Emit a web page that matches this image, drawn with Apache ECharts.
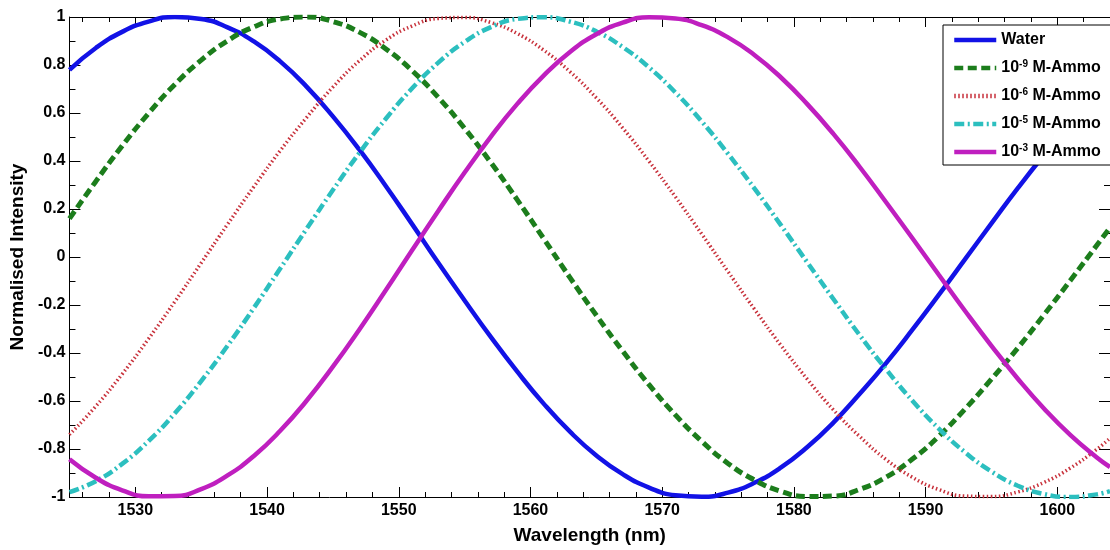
<!DOCTYPE html>
<html>
<head>
<meta charset="utf-8">
<script src="https://cdn.jsdelivr.net/npm/echarts@6/dist/echarts.min.js"></script>
<style>
  html, body { margin: 0; padding: 0; background: #fff; }
  #chart { width: 1110px; height: 550px; }
</style>
</head>
<body>
<div id="chart"></div>
<script>
// ---- data ----
const wavelengths = [1525, 1527, 1529, 1531, 1533, 1535, 1537, 1539, 1541, 1543,
  1545, 1547, 1549, 1551, 1553, 1555, 1557, 1559, 1561, 1563,
  1565, 1567, 1569, 1571, 1573, 1575, 1577, 1579, 1581, 1583,
  1585, 1587, 1589, 1591, 1593, 1595, 1597, 1599, 1601, 1603, 1604];

const water = [0.780, 0.871, 0.938, 0.981, 1.000, 0.992, 0.957, 0.898, 0.815, 0.710,
  0.586, 0.448, 0.297, 0.138, -0.024, -0.181, -0.334, -0.478, -0.611, -0.728,
  -0.827, -0.905, -0.961, -0.993, -0.999, -0.982, -0.941, -0.878, -0.793, -0.690,
  -0.570, -0.442, -0.303, -0.158, -0.009, 0.140, 0.287, 0.426, 0.557, 0.674, 0.728];

const ammo9 = [0.160, 0.315, 0.463, 0.598, 0.719, 0.820, 0.901, 0.959, 0.992, 1.000,
  0.981, 0.937, 0.868, 0.777, 0.665, 0.536, 0.393, 0.238, 0.077, -0.086,
  -0.243, -0.392, -0.532, -0.658, -0.768, -0.860, -0.929, -0.976, -0.998, -0.996,
  -0.968, -0.917, -0.842, -0.747, -0.633, -0.509, -0.379, -0.240, -0.097, 0.049, 0.122];

const ammo6 = [-0.740, -0.622, -0.488, -0.341, -0.186, -0.025, 0.136, 0.293, 0.443, 0.581,
  0.708, 0.817, 0.903, 0.962, 0.994, 0.998, 0.977, 0.931, 0.862, 0.772,
  0.663, 0.538, 0.399, 0.251, 0.096, -0.061, -0.217, -0.367, -0.508, -0.637,
  -0.748, -0.844, -0.918, -0.969, -0.996, -0.998, -0.979, -0.939, -0.879, -0.801, -0.755];

const ammo5 = [-0.980, -0.934, -0.862, -0.767, -0.651, -0.517, -0.370, -0.212, -0.048, 0.117,
  0.279, 0.433, 0.575, 0.702, 0.810, 0.896, 0.958, 0.992, 0.999, 0.981,
  0.940, 0.875, 0.790, 0.686, 0.565, 0.430, 0.286, 0.134, -0.021, -0.175,
  -0.326, -0.468, -0.599, -0.715, -0.814, -0.894, -0.953, -0.988, -1.000, -0.989, -0.976];

const ammo3 = [-0.843, -0.920, -0.972, -0.997, -0.996, -0.967, -0.910, -0.829, -0.724, -0.599,
  -0.457, -0.303, -0.140, 0.027, 0.192, 0.352, 0.502, 0.638, 0.756, 0.854,
  0.928, 0.977, 0.999, 0.994, 0.966, 0.915, 0.842, 0.749, 0.638, 0.513,
  0.375, 0.228, 0.078, -0.074, -0.225, -0.370, -0.507, -0.632, -0.742, -0.835, -0.875];

const seriesNames = ['Water', '10-9 M-Ammo', '10-6 M-Ammo', '10-5 M-Ammo', '10-3 M-Ammo'];
const xTickLabels = [1530, 1540, 1550, 1560, 1570, 1580, 1590, 1600];
const yTickLabels = [-1, -0.8, -0.6, -0.4, -0.2, 0, 0.2, 0.4, 0.6, 0.8, 1];

// ---- chart ----
const FONT = '"Liberation Sans", Arial, Helvetica, sans-serif';
const X_MIN = 1525, X_MAX = 1604;

const xMinorTicks = [];
for (let v = 1526; v < X_MAX; v += 2) {
  if (v % 10 !== 0) xMinorTicks.push(v);
}

function xAxisDef(position, minor) {
  const main = position === 'bottom' && !minor;
  return {
    type: 'value', position: position, min: X_MIN, max: X_MAX,
    axisLine: { show: !minor, onZero: false, lineStyle: { color: '#000', width: 1 } },
    axisTick: { show: true, inside: true, length: minor ? 5 : 10,
      customValues: minor ? xMinorTicks : xTickLabels,
      lineStyle: { color: '#000', width: 1 } },
    axisLabel: main ? {
      show: true, customValues: xTickLabels, margin: 6,
      formatter: function (v) { return String(v); },
      color: '#000', fontSize: 16, fontWeight: 'bold', fontFamily: FONT
    } : { show: false },
    splitLine: { show: false },
    name: main ? 'Wavelength (nm)' : '',
    nameLocation: 'middle', nameGap: 29,
    nameTextStyle: { color: '#000', fontSize: 19, fontWeight: 'bold', fontFamily: FONT }
  };
}

function yAxisDef(position) {
  const left = position === 'left';
  return {
    type: 'value', position: position, min: -1, max: 1, interval: 0.2,
    axisLine: { show: true, onZero: false, lineStyle: { color: '#000', width: 1 } },
    axisTick: { show: true, inside: true, length: 11, lineStyle: { color: '#000', width: 1 } },
    minorTick: { show: true, splitNumber: 2, length: 6, lineStyle: { color: '#000', width: 1 } },
    axisLabel: left ? { show: true, margin: 4, color: '#000', fontSize: 16, fontWeight: 'bold',
      fontFamily: FONT, customValues: yTickLabels } : { show: false },
    splitLine: { show: false },
    minorSplitLine: { show: false },
    name: left ? 'Normalised Intensity' : '',
    nameLocation: 'middle', nameGap: 36,
    nameTextStyle: { color: '#000', fontSize: 19, fontWeight: 'bold', fontFamily: FONT }
  };
}

function pairs(values) {
  return wavelengths.map((w, i) => [w, values[i]]);
}

const styles = [
  { color: '#1212e6', width: 4.5, type: 'solid' },
  { color: '#1c7d1c', width: 5, type: [9, 4.5] },
  { color: '#c8323c', width: 3.5, type: [1.5, 2.5] },
  { color: '#2cbfbf', width: 4.5, type: [10, 3.5, 2, 3.5] },
  { color: '#bf1fbf', width: 4.5, type: 'solid' }
];
const allValues = [water, ammo9, ammo6, ammo5, ammo3];

const chart = echarts.init(document.getElementById('chart'), null, { renderer: 'canvas' });
chart.setOption({
  animation: false,
  backgroundColor: '#ffffff',
  grid: { left: 68, right: -7, top: 17, bottom: 45, containLabel: false },
  xAxis: [xAxisDef('bottom', false), xAxisDef('bottom', true), xAxisDef('top', false), xAxisDef('top', true)],
  yAxis: [yAxisDef('left'), yAxisDef('right')],
  legend: {
    orient: 'vertical', left: 943, top: 25,
    padding: [6, 40, 4, 9],
    itemWidth: 42, itemHeight: 14, itemGap: 10,
    backgroundColor: '#ffffff', borderColor: '#000', borderWidth: 1, borderRadius: 0,
    data: seriesNames,
    itemStyle: { opacity: 0, borderWidth: 0 },
    lineStyle: { width: 4.5 },
    formatter: function (name) { return name.replace(/^10(-\d+)/, '10{sup|$1}'); },
    textStyle: {
      color: '#000', fontSize: 16, fontWeight: 'bold', fontFamily: FONT, lineHeight: 18,
      rich: { sup: { fontSize: 10, fontWeight: 'bold', fontFamily: FONT, verticalAlign: 'top', lineHeight: 11, color: '#000' } }
    }
  },
  series: allValues.map((vals, i) => ({
    name: seriesNames[i],
    type: 'line',
    xAxisIndex: 0, yAxisIndex: 0,
    data: pairs(vals),
    smooth: true,
    symbol: 'none', showSymbol: false,
    clip: true,
    lineStyle: { color: styles[i].color, width: styles[i].width, type: styles[i].type, cap: 'butt' },
    itemStyle: { color: styles[i].color }
  }))
});
</script>
</body>
</html>
